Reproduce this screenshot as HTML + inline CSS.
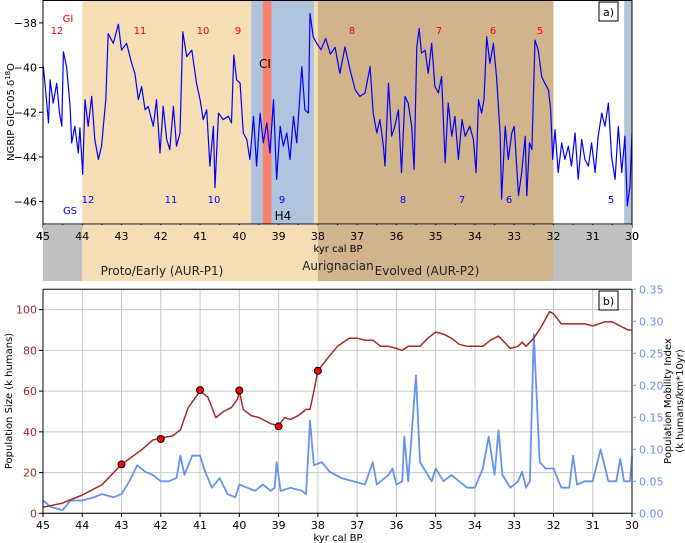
<!DOCTYPE html>
<html><head><meta charset="utf-8"><style>
body{margin:0;background:#fff;}
svg{display:block;font-family:"DejaVu Sans","Liberation Sans",sans-serif;}
</style></head><body>
<svg id="chart" width="685" height="543" viewBox="0 0 685 543" xmlns="http://www.w3.org/2000/svg">
<g id="gtop"></g>
<g id="gstrip"></g>
<g id="gbot"></g>
</svg>
<script>
// ---- Panel a data ----
const ngripKyr = [44.99,44.91,44.86,44.82,44.74,44.65,44.58,44.52,44.48,44.40,44.31,44.27,44.19,44.10,44.06,43.99,43.93,43.85,43.76,43.68,43.59,43.51,43.40,43.34,43.21,43.08,43.00,42.87,42.74,42.66,42.57,42.49,42.40,42.32,42.19,42.11,42.02,41.94,41.85,41.77,41.68,41.60,41.51,41.44,41.34,41.21,41.09,41.00,40.92,40.83,40.75,40.66,40.62,40.53,40.41,40.28,40.20,40.14,40.07,39.98,39.90,39.81,39.73,39.64,39.56,39.47,39.39,39.30,39.22,39.13,39.05,38.96,38.88,38.79,38.71,38.62,38.54,38.41,38.33,38.24,38.20,38.12,38.03,37.92,37.80,37.68,37.56,37.44,37.31,37.18,37.05,36.93,36.80,36.67,36.59,36.50,36.42,36.33,36.29,36.20,36.12,36.04,35.95,35.87,35.78,35.70,35.61,35.55,35.48,35.42,35.36,35.27,35.19,35.10,35.02,34.93,34.85,34.76,34.68,34.59,34.51,34.42,34.33,34.25,34.13,34.04,33.97,33.91,33.83,33.77,33.70,33.62,33.53,33.45,33.36,33.32,33.23,33.15,33.06,33.00,32.89,32.81,32.72,32.68,32.61,32.55,32.47,32.39,32.30,32.22,32.13,32.07,32.02,31.96,31.88,31.79,31.71,31.62,31.54,31.45,31.37,31.28,31.20,31.11,31.03,30.94,30.86,30.77,30.69,30.60,30.52,30.43,30.35,30.26,30.18,30.12,30.05,30.00];
const ngripD18O = [-39.96,-41.45,-42.48,-40.55,-41.59,-40.70,-42.03,-42.63,-39.29,-39.96,-41.74,-43.37,-42.63,-43.82,-42.70,-44.78,-41.44,-42.63,-41.29,-43.22,-44.11,-43.52,-41.44,-38.48,-38.92,-38.06,-39.22,-38.92,-39.81,-40.26,-41.44,-40.85,-41.89,-41.74,-42.63,-41.44,-43.82,-41.74,-43.22,-43.67,-41.74,-43.52,-42.93,-38.40,-39.51,-39.22,-40.70,-41.44,-42.33,-41.89,-44.41,-42.63,-45.37,-42.04,-42.33,-42.18,-42.48,-39.44,-40.55,-40.70,-42.93,-43.22,-44.11,-42.18,-44.41,-42.04,-43.37,-42.48,-43.82,-41.44,-45.00,-42.63,-43.52,-42.93,-44.11,-42.18,-43.37,-39.96,-41.89,-42.04,-37.58,-38.62,-38.92,-39.20,-38.70,-39.40,-39.10,-40.26,-39.07,-40.11,-41.00,-41.29,-41.14,-39.96,-42.04,-42.93,-42.33,-43.52,-44.41,-40.70,-43.07,-42.63,-41.89,-44.70,-41.29,-41.59,-42.63,-44.56,-39.07,-38.25,-39.36,-39.22,-40.26,-38.92,-40.85,-41.14,-40.40,-44.26,-41.59,-43.07,-42.18,-44.11,-42.33,-43.07,-42.63,-43.22,-44.70,-41.44,-42.04,-41.44,-38.62,-39.81,-38.92,-40.40,-42.93,-45.89,-42.63,-44.11,-42.93,-42.63,-45.74,-44.70,-43.07,-45.74,-43.37,-43.67,-38.77,-39.22,-40.40,-40.70,-40.99,-41.89,-44.11,-42.78,-44.70,-43.37,-44.11,-43.52,-44.41,-42.93,-45.00,-43.22,-44.11,-44.41,-43.37,-44.70,-43.07,-42.04,-42.63,-41.59,-44.00,-45.00,-42.63,-44.70,-43.07,-46.19,-45.30,-42.93];
const yTicksA = [-38,-40,-42,-44,-46];
const xTicks = [45,44,43,42,41,40,39,38,37,36,35,34,33,32,31,30];
// ---- Panel b data ----
const popKyr = [45,44.5,44,43.5,43,42.5,42.2,42,41.7,41.5,41.3,41,40.8,40.6,40.4,40.2,40.05,40,39.9,39.7,39.5,39.2,39,38.85,38.7,38.5,38.3,38.2,38.1,38,37.8,37.5,37.2,37,36.8,36.6,36.4,36.2,36,35.85,35.7,35.4,35.2,35,34.8,34.6,34.4,34.2,34,33.8,33.6,33.4,33.3,33.1,32.9,32.8,32.7,32.5,32.3,32.1,32,31.8,31.5,31.2,31,30.7,30.5,30.3,30.1,30];
const popSize = [3,5,9,14,24,31,36,37,38,41,52,60,57,47,50,52,56,60,51,48,47,44,43,47,46,48,51,51,60,70,75,82,86,86,85,85,82,82,81,80,82,82,86,89,88,86,83,82,82,82,85,87,85,81,82,84,82,86,92,99,98,93,93,93,92,94,94,92,90,90];
const markerKyr = [43,42,41,40,39,38];
const markerPop = [24,36.5,60.5,60.3,42.7,70];
const mobKyr = [45,44.8,44.5,44.3,44,43.7,43.5,43.2,43,42.8,42.6,42.4,42.2,42,41.8,41.6,41.5,41.4,41.2,41,40.9,40.7,40.5,40.3,40.1,40,39.8,39.6,39.4,39.2,39.1,39.05,38.95,38.7,38.4,38.3,38.2,38.1,37.9,37.7,37.4,37.1,36.8,36.6,36.5,36.2,36.1,36,35.85,35.8,35.7,35.5,35.4,35.3,35.1,35,34.8,34.6,34.4,34.2,34,33.8,33.65,33.5,33.4,33.3,33.1,32.9,32.8,32.7,32.6,32.5,32.35,32.2,32,31.8,31.6,31.5,31.4,31.2,31,30.8,30.6,30.4,30.3,30.2,30.05,30];
const mobIndex = [0.02,0.01,0.005,0.02,0.02,0.025,0.03,0.025,0.03,0.05,0.075,0.065,0.06,0.05,0.05,0.055,0.09,0.06,0.09,0.09,0.07,0.04,0.055,0.03,0.025,0.045,0.04,0.035,0.045,0.035,0.04,0.08,0.035,0.04,0.035,0.03,0.145,0.075,0.08,0.065,0.055,0.05,0.045,0.08,0.045,0.06,0.07,0.045,0.05,0.12,0.05,0.215,0.08,0.07,0.05,0.07,0.05,0.06,0.05,0.04,0.04,0.07,0.12,0.06,0.13,0.06,0.04,0.05,0.065,0.04,0.05,0.28,0.08,0.07,0.07,0.04,0.04,0.09,0.045,0.05,0.05,0.1,0.05,0.05,0.085,0.05,0.05,0.09];
const yTicksLeft = [0,20,40,60,80,100];
const yTicksRight = [0,0.05,0.10,0.15,0.20,0.25,0.30,0.35];

const NS="http://www.w3.org/2000/svg";
function mk(parent,tag,attrs,text){const e=document.createElementNS(NS,tag);for(const k in attrs)e.setAttribute(k,attrs[k]);if(text!==undefined)e.textContent=text;parent.appendChild(e);return e;}
const X0=43,X1=632;
const xs=k=>X0+(45-k)*(X1-X0)/15;
const yA=v=>0.5+(-37-v)*(224-0.5)/10;
const yL=v=>513.3-v*(513.3-289.3)/110;
const yR=v=>513.3-v*(513.3-289.3)/0.35;

// ---------- Panel a ----------
const gTop=document.getElementById('gtop');
function band(g,k0,k1,y0,y1,fill,name){const r=mk(g,'rect',{x:xs(k0),y:y0,width:xs(k1)-xs(k0),height:y1-y0,fill:fill});

}
band(gTop,44,39.7,0.5,224,'#f5deb3','band-proto-early');
band(gTop,39.7,38.1,0.5,224,'#b0c4de','band-h4');
band(gTop,39.4,39.18,0.5,224,'#fa8072','band-ci');
band(gTop,38.1,38.0,0.5,224,'#f5deb3','band-gap');
band(gTop,38,32,0.5,224,'#d2b48c','band-evolved');
band(gTop,30.2,30,0.5,224,'#b0c4de','band-h3');
let d='';ngripKyr.forEach((k,i)=>{d+=(i?'L':'M')+xs(k).toFixed(1)+','+yA(ngripD18O[i]).toFixed(1);});
const ln=mk(gTop,'path',{d:d,fill:'none',stroke:'#0000ff','stroke-width':1.2,'stroke-linejoin':'round'});


mk(gTop,'rect',{x:X0,y:0.5,width:X1-X0,height:223.5,fill:'none',stroke:'#000','stroke-width':1});
yTicksA.forEach(v=>{mk(gTop,'line',{x1:X0-4,x2:X0,y1:yA(v),y2:yA(v),stroke:'#000'});
const t=mk(gTop,'text',{x:X0-6,y:yA(v)+4,'font-size':11,'text-anchor':'end'},'\u2212'+Math.abs(v));

});
for(let k=45;k>=30;k-=0.5){const big=Number.isInteger(k);mk(gTop,'line',{x1:xs(k),x2:xs(k),y1:224,y2:224+(big?4:2),stroke:'#000'});}
xTicks.forEach(k=>{const t=mk(gTop,'text',{x:xs(k),y:240,'font-size':11,'text-anchor':'middle'},k);

});
const yl=mk(gTop,'text',{x:0,y:0,'font-size':10,'text-anchor':'middle',transform:'translate(14,112) rotate(-90)'});
yl.innerHTML='NGRIP GICC05 \u03b4<tspan dy="-4" font-size="7">18</tspan><tspan dy="4">O</tspan>';


const xl=mk(gTop,'text',{x:338,y:252,'font-size':10,'text-anchor':'middle'},'kyr cal BP');


const red=[['GI',68,22],['12',57,34],['11',140,34],['10',203,34],['9',238,34],['8',352,34],['7',439,34],['6',493,34],['5',540,34]];
red.forEach(a=>{const t=mk(gTop,'text',{x:a[1],y:a[2],'font-size':10,fill:'#ff0000','text-anchor':'middle'},a[0]);

});
const blue=[['12',88,203],['GS',70,214],['11',171,203],['10',214,203],['9',282,203],['8',403,203],['7',462,203],['6',509,203],['5',611,203]];
blue.forEach(a=>{const t=mk(gTop,'text',{x:a[1],y:a[2],'font-size':10,fill:'#0000ff','text-anchor':'middle'},a[0]);

});
const ci=mk(gTop,'text',{x:265,y:68,'font-size':12,'text-anchor':'middle'},'CI');


const h4=mk(gTop,'text',{x:283,y:220,'font-size':12,'text-anchor':'middle'},'H4');


mk(gTop,'rect',{x:599,y:2,width:19,height:19,fill:'#fff',stroke:'#000'});
const pa=mk(gTop,'text',{x:608.5,y:16,'font-size':11,'text-anchor':'middle'},'a)');



// ---------- Strip ----------
const gStrip=document.getElementById('gstrip');
band(gStrip,45,44,225,281,'#c0c0c0','strip-pre');
band(gStrip,44,38,225,281,'#f5deb3','strip-proto-early');
band(gStrip,38,32,225,281,'#d2b48c','strip-evolved');
band(gStrip,32,30,225,281,'#c0c0c0','strip-post');
[['Proto/Early (AUR-P1)',162,275,'strip-label-p1'],['Aurignacian',338,270,'strip-label-aurignacian'],['Evolved (AUR-P2)',427,275,'strip-label-p2']].forEach(a=>{
const t=mk(gStrip,'text',{x:a[1],y:a[2],'font-size':12,'text-anchor':'middle',fill:'#222'},a[0]);

});
// redraw tick labels over strip
xTicks.forEach(k=>{mk(gStrip,'text',{x:xs(k),y:240,'font-size':11,'text-anchor':'middle'},k);});
mk(gStrip,'text',{x:338,y:252,'font-size':10,'text-anchor':'middle'},'kyr cal BP');

// ---------- Panel b ----------
const gBot=document.getElementById('gbot');
xTicks.forEach(k=>mk(gBot,'line',{x1:xs(k),x2:xs(k),y1:289.3,y2:513.3,stroke:'#c8c8c8','stroke-width':1}));
yTicksLeft.forEach(v=>mk(gBot,'line',{x1:X0,x2:X1,y1:yL(v),y2:yL(v),stroke:'#c8c8c8','stroke-width':1}));
let dm='';mobKyr.forEach((k,i)=>{dm+=(i?'L':'M')+xs(k).toFixed(1)+','+yR(mobIndex[i]).toFixed(1);});
const ml=mk(gBot,'path',{d:dm,fill:'none',stroke:'#6495ed','stroke-width':1.8,'stroke-linejoin':'round'});


let dp='';popKyr.forEach((k,i)=>{dp+=(i?'L':'M')+xs(k).toFixed(1)+','+yL(popSize[i]).toFixed(1);});
const pl=mk(gBot,'path',{d:dp,fill:'none',stroke:'#a52a2a','stroke-width':1.5,'stroke-linejoin':'round'});


markerKyr.forEach((k,i)=>{const c=mk(gBot,'circle',{cx:xs(k),cy:yL(markerPop[i]),r:3.5,fill:'#ff0000',stroke:'#000','stroke-width':1});

});
mk(gBot,'line',{x1:X0,x2:X0,y1:289.3,y2:513.3,stroke:'#000'});
mk(gBot,'line',{x1:X0,x2:X1,y1:513.3,y2:513.3,stroke:'#000'});
mk(gBot,'line',{x1:X0,x2:X1,y1:289.3,y2:289.3,stroke:'#000'});
mk(gBot,'line',{x1:X1,x2:X1,y1:289.3,y2:513.3,stroke:'#555','stroke-width':1.5});
yTicksLeft.forEach(v=>{mk(gBot,'line',{x1:X0-4,x2:X0,y1:yL(v),y2:yL(v),stroke:'#000'});
const t=mk(gBot,'text',{x:X0-6,y:yL(v)+4,'font-size':11,'text-anchor':'end',fill:'#a52a2a'},v);

});
yTicksRight.forEach(v=>{mk(gBot,'line',{x1:X1,x2:X1+4,y1:yR(v),y2:yR(v),stroke:'#6495ed'});
const t=mk(gBot,'text',{x:X1+7,y:yR(v)+4,'font-size':11,fill:'#6495ed'},v.toFixed(2));

});
xTicks.forEach(k=>{mk(gBot,'line',{x1:xs(k),x2:xs(k),y1:513.3,y2:517,stroke:'#000'});
const t=mk(gBot,'text',{x:xs(k),y:529,'font-size':11,'text-anchor':'middle'},k);

});
const xb=mk(gBot,'text',{x:338,y:541,'font-size':10,'text-anchor':'middle'},'kyr cal BP');


const ylb=mk(gBot,'text',{x:0,y:0,'font-size':10,'text-anchor':'middle',transform:'translate(12,401) rotate(-90)'},'Population Size (k humans)');


const yr1=mk(gBot,'text',{x:0,y:0,'font-size':10,'text-anchor':'middle',transform:'translate(671,401) rotate(-90)'},'Population Mobility Index');


const yr2=mk(gBot,'text',{x:0,y:0,'font-size':10,'text-anchor':'middle',transform:'translate(683,401) rotate(-90)'},'(k humans/km*10yr)');


mk(gBot,'rect',{x:599,y:291,width:19,height:19,fill:'#fff',stroke:'#000'});
const pb=mk(gBot,'text',{x:608.5,y:305,'font-size':11,'text-anchor':'middle'},'b)');


</script>
</body></html>
